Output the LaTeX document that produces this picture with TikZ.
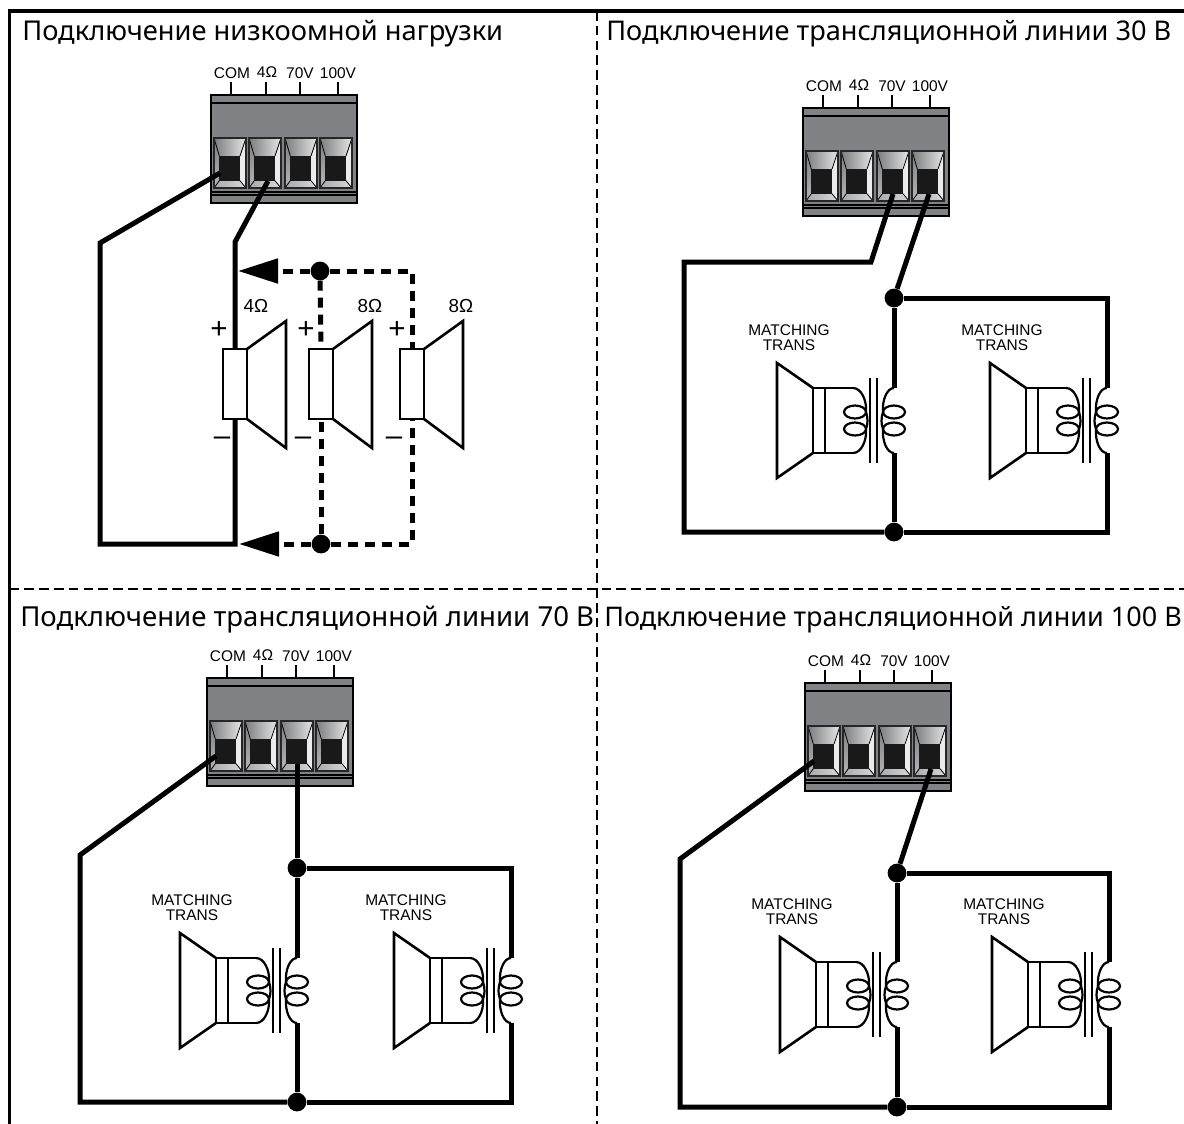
\documentclass[tikz,border=0pt]{standalone}
\usepackage{fontspec}
\setmainfont{Liberation Sans}
\newfontfamily\titlefont{Noto Sans}
\usetikzlibrary{arrows.meta}
\definecolor{blockgray}{HTML}{808285}
\definecolor{slotgray}{HTML}{6D6E71}
\tikzset{
    x=0.25mm,y=-0.25mm,
    wire/.style={line width=1.25mm,line join=miter},
    dashwire/.style={line width=1.25mm,dash pattern=on 2.5mm off 1.75mm},
    spkline/.style={line width=0.65mm,line join=miter},
    coilline/.style={line width=0.55mm},
    dot/.style={circle,fill=black,inner sep=0pt,minimum size=4.7mm},
    frameline/.style={line width=0.85mm},
    framedash/.style={line width=0.7mm,dash pattern=on 2.4mm off 1.3mm},
    title/.style={anchor=base west,inner sep=0pt,font=\titlefont\fontsize{19.3}{22}\selectfont},
    smalllabel/.style={inner sep=0pt,font=\fontsize{11}{13}\selectfont},
    ohmlabel/.style={inner sep=0pt,font=\fontsize{13.4}{15}\selectfont},
    signlabel/.style={inner sep=0pt,font=\fontsize{21}{22}\selectfont},
    termslot/.pic={
        \fill[black!8] (0,0) rectangle (32,50);
        \shade[left color=slotgray!90,right color=black!10] (0,0) -- (32,0) -- (26,18) -- (5.3,18) -- cycle;
        \shade[left color=slotgray!60,right color=black!15] (0,50) -- (32,50) -- (26,42.7) -- (5.3,42.7) -- cycle;
        \shade[top color=slotgray!90,bottom color=slotgray!50] (0,0) -- (5.3,18) -- (5.3,42.7) -- (0,50) -- cycle;
        \fill[black!8] (32,0) -- (26,18) -- (26,42.7) -- (32,50) -- cycle;
        \fill[black!90] (5.3,18) rectangle (26,42.7);
        \draw[line width=0.2mm] (0,0) -- (5.3,18) (32,0) -- (26,18) (0,50) -- (5.3,42.7) (32,50) -- (26,42.7);
        \draw[line width=0.35mm,black!85] (0,0) rectangle (32,50);
    },
    % origin is the upper left corner of the block
    terminal/.pic={
        \draw[line width=0.3mm] (20,-13) -- (20,0) (55,-13) -- (55,0) (89,-13) -- (89,0) (127,-13) -- (127,0);
        \node[smalllabel] (-com) at (21,-22) {COM};
        \node[smalllabel] (-four) at (56,-23) {4\char"03A9};
        \node[smalllabel] (-seventy) at (89,-22) {70V};
        \node[smalllabel] (-hundred) at (127,-22) {100V};
        \draw[fill=blockgray,line width=0.35mm] (0,0) rectangle (146,108);
        \draw[line width=0.3mm] (0,8) -- (146,8) (0,97) -- (146,97) (0,100) -- (146,100);
        \pic at (3,43) {termslot};
        \pic at (38,43) {termslot};
        \pic at (74,43) {termslot};
        \pic at (109,43) {termslot};
        \coordinate (-a) at (9,78);
        \coordinate (-b) at (57,86);
        \coordinate (-c) at (90,86);
        \coordinate (-d) at (126,86);
    },
    % origin is the upper left corner of the magnet
    speaker/.pic={
        \draw[spkline,fill=white] (0,0) rectangle (24,70);
        \draw[spkline] (24,0) -- (63,-28) -- (63,99) -- (24,70);
        \coordinate (-p) at (12,0);
        \coordinate (-n) at (12,70);
    },
    % origin is the top of the right coil, on the wire
    matchspk/.pic={
        \node[smalllabel] (-top) at (-105,-58) {MATCHING};
        \node[smalllabel] (-bot) at (-105,-43) {TRANS};
        \draw[spkline] (-81,0) -- (-117,-25) -- (-117,90) -- (-81,65);
        \draw[coilline] (-81,0) rectangle (-69,65);
        \draw[spkline] (-69,0) -- (-41,0) (-69,0) -- (-69,65) -- (-41,65);
        \draw[coilline] (-41,0) .. controls (-33,0) and (-27,12) .. (-28,24)
            .. controls (-26,30) and (-26,36) .. (-28,41)
            .. controls (-27,53) and (-33,65) .. (-41,65);
        \draw[coilline] (-39,24) ellipse (11 and 6.5);
        \draw[coilline] (-39,41) ellipse (11 and 6.5);
        \draw[spkline] (-24,-10) -- (-24,75) (-17,-10) -- (-17,75);
        \draw[coilline] (0,0) .. controls (-7,0) and (-12,12) .. (-11,24)
            .. controls (-13,30) and (-13,36) .. (-11,41)
            .. controls (-12,53) and (-7,65) .. (0,65);
        \draw[coilline] (0,24) ellipse (11 and 6.5);
        \draw[coilline] (0,41) ellipse (11 and 6.5);
        \coordinate (-a) at (0,0);
        \coordinate (-b) at (0,65);
    }
}

\begin{document}
\begin{tikzpicture}
    \useasboundingbox (0,0) rectangle (1184,1124);

    % frame and dividers
    \coordinate (fa) at (9.5,1124);
    \coordinate (fb) at (9.5,11);
    \coordinate (fc) at (1184,11);
    \coordinate (fd) at (597,11);
    \coordinate (fe) at (597,1124);
    \coordinate (ff) at (9.5,589);
    \coordinate (fg) at (1184,589);
    \draw[frameline] (fa) -- (fb) -- (fc);
    \draw[framedash] (fd) -- (fe);
    \draw[framedash] (ff) -- (fg);

    \node[title,font=\titlefont\fontsize{19.4}{22}\selectfont] (titleA) at (22,40) {Подключение низкоомной нагрузки};
    \node[title] (titleB) at (606,40) {Подключение трансляционной линии 30 В};
    \node[title,font=\titlefont\fontsize{19.6}{22}\selectfont] (titleC) at (20,626) {Подключение трансляционной линии 70 В};
    \node[title,font=\titlefont\fontsize{19.2}{22}\selectfont] (titleD) at (604,626) {Подключение трансляционной линии 100 В};

    % low impedance load
    \pic (tA) at (211,95) {terminal};
    \coordinate (a1) at (100,243);
    \coordinate (a2) at (100,544);
    \coordinate (a3) at (235,544);
    \coordinate (a4) at (235,242);
    \coordinate (a5) at (238,271);
    \coordinate (a6) at (239,544);
    \coordinate (a7) at (412,271);
    \coordinate (a8) at (412,544);
    \node[dot] (dA) at (320,271) {};
    \node[dot] (dB) at (321,544) {};
    \pic (sA) at (223,349) {speaker};
    \pic (sB) at (309,349) {speaker};
    \pic (sC) at (400,349) {speaker};
    \draw[wire] (tA-a) -- (a1) -- (a2) -- (a3) -- (sA-n);
    \draw[wire] (tA-b) -- (a4) -- (sA-p);
    \draw[dashwire] (dA) -- (sB-p);
    \draw[dashwire] (dB) -- (sB-n);
    \draw[dashwire] (dA) -- (a7) -- (sC-p);
    \draw[dashwire] (dB) -- (a8) -- (sC-n);
    \draw[dashwire,-{Triangle[length=10mm,width=6mm]}] (dA) -- (a5);
    \draw[dashwire,-{Triangle[length=10mm,width=6mm]}] (dB) -- (a6);
    \node[ohmlabel] (ohmA) at (256,306) {4\char"03A9};
    \node[ohmlabel] (ohmB) at (370,306) {8\char"03A9};
    \node[ohmlabel] (ohmC) at (461,306) {8\char"03A9};
    \node[signlabel] (plusA) at (219,330) {+};
    \node[signlabel] (plusB) at (306,330) {+};
    \node[signlabel] (plusC) at (397,330) {+};
    \node[signlabel] (minusA) at (222,441) {\char"2013};
    \node[signlabel] (minusB) at (303,441) {\char"2013};
    \node[signlabel] (minusC) at (394,441) {\char"2013};

    % 30 V line
    \pic (tB) at (803,108) {terminal};
    \pic (mA) at (894,388) {matchspk};
    \pic (mB) at (1107,388) {matchspk};
    \coordinate (b1) at (871,262);
    \coordinate (b2) at (684,262);
    \coordinate (b3) at (684,532);
    \node[dot] (dC) at (894,298) {};
    \node[dot] (dD) at (894,532) {};
    \draw[wire] (tB-c) -- (b1) -- (b2) -- (b3) -- (dD);
    \draw[wire] (tB-d) -- (dC);
    \draw[wire] (dC) -- (mA-a);
    \draw[wire] (mA-b) -- (dD);
    \draw[wire] (dC) -| (mB-a);
    \draw[wire] (mB-b) |- (dD);

    % 70 V line
    \pic (tC) at (207,678) {terminal};
    \pic (mC) at (297,958) {matchspk};
    \pic (mD) at (511,958) {matchspk};
    \coordinate (c1) at (80,855);
    \coordinate (c2) at (80,1102);
    \node[dot] (dE) at (297,868) {};
    \node[dot] (dF) at (297,1102) {};
    \draw[wire] (tC-a) -- (c1) -- (c2) -- (dF);
    \draw[wire] (tC-c) -- (dE);
    \draw[wire] (dE) -- (mC-a);
    \draw[wire] (mC-b) -- (dF);
    \draw[wire] (dE) -| (mD-a);
    \draw[wire] (mD-b) |- (dF);

    % 100 V line
    \pic (tD) at (805,683) {terminal};
    \pic (mE) at (897,962) {matchspk};
    \pic (mF) at (1109,962) {matchspk};
    \coordinate (e1) at (680,859);
    \coordinate (e2) at (680,1107);
    \node[dot] (dG) at (897,873) {};
    \node[dot] (dH) at (897,1107) {};
    \draw[wire] (tD-a) -- (e1) -- (e2) -- (dH);
    \draw[wire] (tD-d) -- (dG);
    \draw[wire] (dG) -- (mE-a);
    \draw[wire] (mE-b) -- (dH);
    \draw[wire] (dG) -| (mF-a);
    \draw[wire] (mF-b) |- (dH);
\end{tikzpicture}
\end{document}
